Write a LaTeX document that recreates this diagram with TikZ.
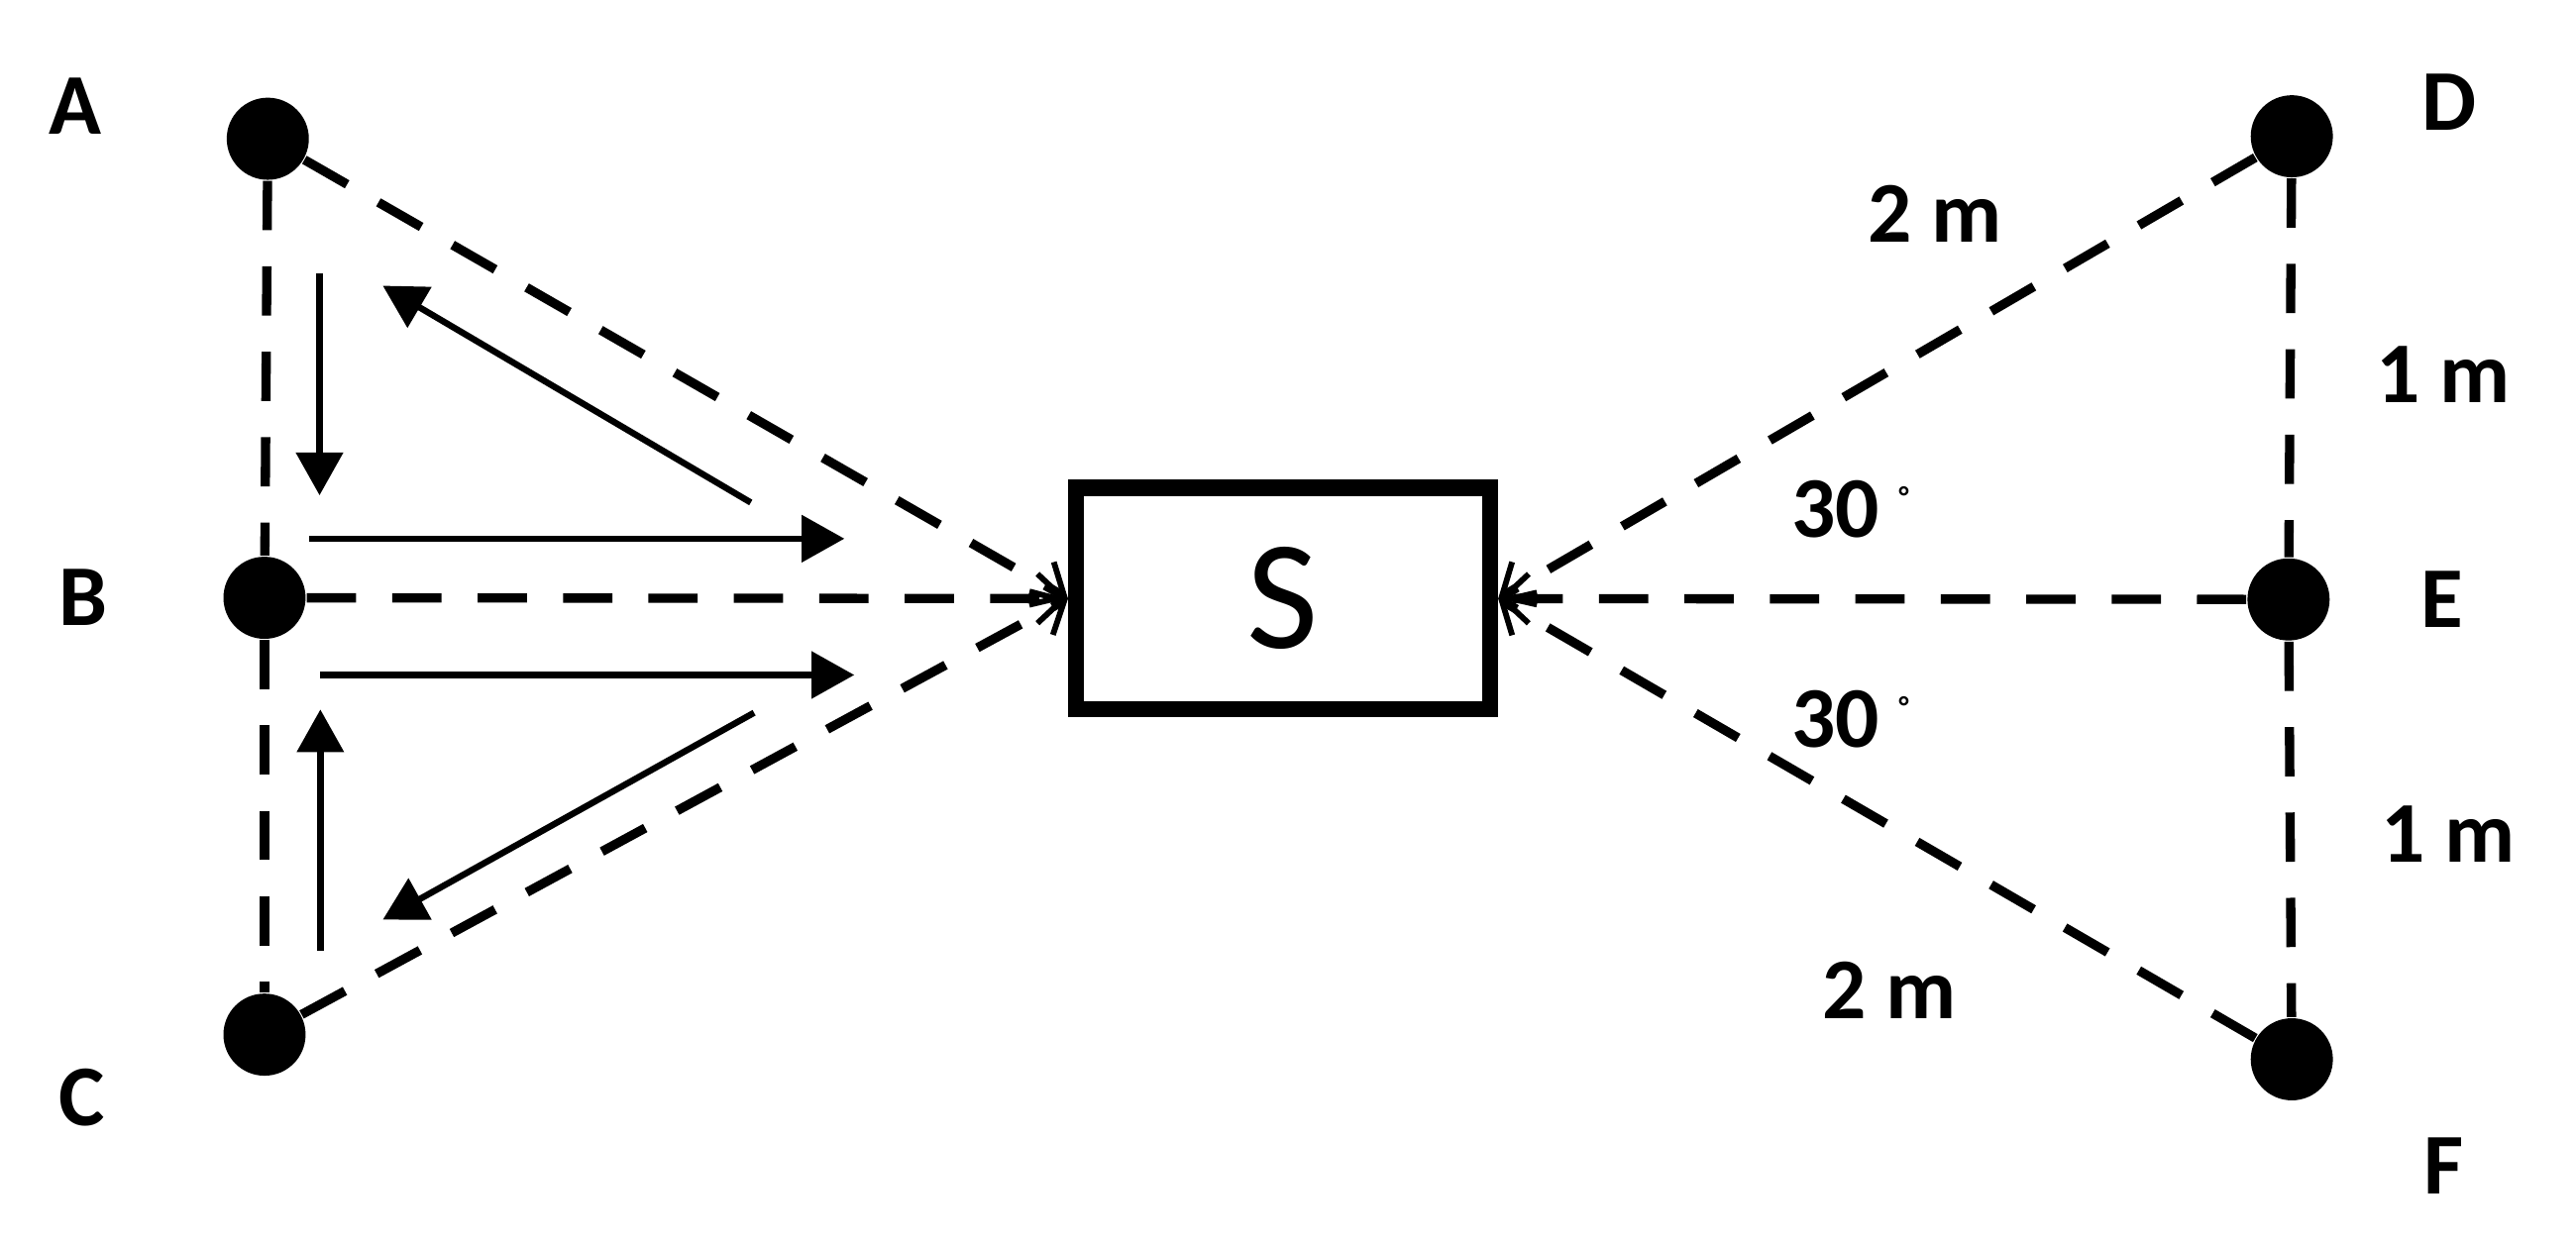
\documentclass[tikz,border=0pt]{standalone}
\usepackage{fontspec}
\setmainfont{Carlito}
\usetikzlibrary{arrows.meta,positioning}

\tikzset{
    dot/.style={circle, fill, inner sep=0pt, minimum size=5mm},
    link/.style={line width=1.6pt, dash pattern=on 3mm off 2.2mm},
    tosrc/.style={link, -{Straight Barb[length=1.6mm,width=3mm,line width=1pt]}},
    flow/.style={line width=1.1pt, -{Triangle[length=2.6mm,width=2.8mm]}},
    lbl/.style={inner sep=0pt, font=\bfseries\fontsize{15}{18}\selectfont},
}

\begin{document}
\begin{tikzpicture} % points A, B, C and D, E, F around the source S
    \useasboundingbox (0,0) rectangle (15.68,7.57);

    \node[draw, line width=2.8pt, minimum width=2.52cm, minimum height=1.35cm,
          font=\fontsize{27}{30}\selectfont] (s) at (7.81,3.925) {S};

    \node[dot] (a) at (1.63,6.725) {};
    \node[dot] (b) at (1.61,3.93) {};
    \node[dot] (c) at (1.61,1.27) {};
    \node[dot] (d) at (13.95,6.74) {};
    \node[dot] (e) at (13.93,3.92) {};
    \node[dot] (f) at (13.95,1.12) {};

    \node[lbl, left=0.75cm of a, yshift=2mm] (la) {A};
    \node[lbl, left=0.69cm of b] (lb) {B};
    \node[lbl, left=0.71cm of c, yshift=-3.8mm] (lc) {C};
    \node[lbl, right=0.53cm of d, yshift=2.1mm] (ld) {D};
    \node[lbl, right=0.54cm of e] (le) {E};
    \node[lbl, right=0.54cm of f, yshift=-6.5mm] (lf) {F};

    % dashed sides and lines to S
    \draw[link] (a) -- (b);
    \draw[link] (b) -- (c);
    \draw[link] (d) -- (e);
    \draw[link] (e) -- (f);
    \draw[tosrc] (a) -- (s.west);
    \draw[tosrc] (b) -- (s.west);
    \draw[tosrc] (c) -- (s.west);
    \draw[tosrc] (d) -- (s.east);
    \draw[tosrc] (e) -- (s.east);
    \draw[tosrc] (f) -- (s.east);

    % path of the moving point
    \coordinate (p1) at (1.945,5.905);
    \coordinate (p2) at (1.945,4.554);
    \coordinate (p3) at (1.88,4.29);
    \coordinate (p4) at (5.14,4.29);
    \coordinate (p5) at (4.57,4.51);
    \coordinate (p6) at (2.33,5.83);
    \coordinate (p7) at (1.95,3.46);
    \coordinate (p8) at (5.20,3.46);
    \coordinate (p9) at (4.59,3.23);
    \coordinate (p10) at (2.33,1.97);
    \coordinate (p11) at (1.95,1.78);
    \coordinate (p12) at (1.95,3.25);
    \draw[flow] (p1) -- (p2);
    \draw[flow] (p3) -- (p4);
    \draw[flow] (p5) -- (p6);
    \draw[flow] (p7) -- (p8);
    \draw[flow] (p9) -- (p10);
    \draw[flow] (p11) -- (p12);

    \node[lbl] (m1) at (11.78,6.27) {2 m};
    \node[lbl] (m2) at (14.87,5.29) {1 m};
    \node[lbl] (m3) at (14.90,2.49) {1 m};
    \node[lbl] (m4) at (11.50,1.54) {2 m};
    \node[lbl, anchor=base] (g1) at (11.27,4.30) {30 \textsuperscript{\tiny°}};
    \node[lbl, anchor=base] (g2) at (11.27,3.02) {30 \textsuperscript{\tiny°}};
\end{tikzpicture}
\end{document}
